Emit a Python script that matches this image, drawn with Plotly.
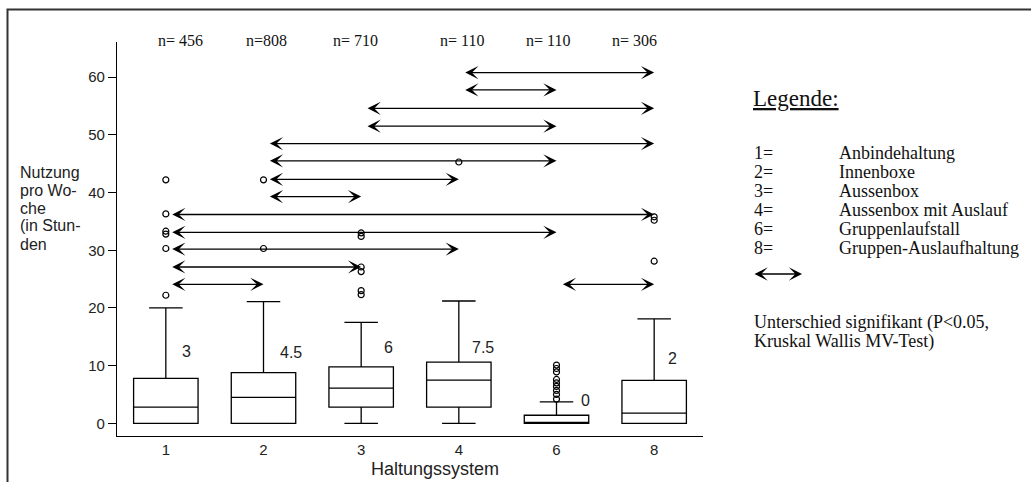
import plotly.graph_objects as go

# ---------------- data ----------------
categories = ["1", "2", "3", "4", "6", "8"]
n_labels = ["n= 456", "n=808", "n= 710", "n= 110", "n= 110", "n= 306"]
q1 = [0, 0, 2.8, 2.8, 0, 0]
median = [2.8, 4.5, 6.1, 7.5, 0, 1.75]
q3 = [7.8, 8.8, 9.8, 10.6, 1.4, 7.45]
lowerfence = [0, 0, 0, 0, 0, 0]
upperfence = [20.0, 21.1, 17.5, 21.2, 3.7, 18.1]
median_labels = ["3", "4.5", "6", "7.5", "0", "2"]

outliers = {
    "1": [22.2, 30.3, 32.8, 33.3, 36.3, 42.2],
    "2": [30.3, 42.2],
    "3": [22.3, 23.0, 26.3, 27.1, 32.4, 33.0],
    "4": [45.3],
    "6": [4.2, 5.0, 5.7, 6.4, 7.0, 7.6, 8.9, 9.5, 10.1],
    "8": [28.1, 35.2, 35.8],
}

# significant pairwise differences (from, to, height)
sig_from = ["4", "4", "3", "3", "2", "2", "2", "2", "1", "1", "1", "1", "1", "6"]
sig_to = ["8", "6", "8", "6", "8", "6", "4", "3", "8", "6", "4", "3", "2", "8"]
sig_y = [60.8, 57.8, 54.6, 51.5, 48.5, 45.5, 42.3, 39.3, 36.2, 33.1, 30.2, 27.1, 24.1, 24.1]

legend_codes = ["1=", "2=", "3=", "4=", "6=", "8="]
legend_names = ["Anbindehaltung", "Innenboxe", "Aussenbox", "Aussenbox mit Auslauf",
                "Gruppenlaufstall", "Gruppen-Auslaufhaltung"]
y_title_lines = ["Nutzung", "pro Wo-", "che", "(in Stun-", "den"]

# ---------------- figure ----------------
W, H = 1031, 482
ML, MR, MT, MB = 117, W - 703, 42, H - 436
PW, PH = W - ML - MR, H - MT - MB

def px_x(p):
    return (p - ML) / PW

def px_y(p):
    return (H - MB - p) / PH

pos = {c: i for i, c in enumerate(categories)}
xs = list(range(len(categories)))

fig = go.Figure()
fig.add_trace(go.Box(
    x=xs, q1=q1, median=median, q3=q3,
    lowerfence=lowerfence, upperfence=upperfence,
    width=0.66, whiskerwidth=0.52, boxpoints=False,
    line=dict(color="black", width=1.3), fillcolor="white",
    showlegend=False, hoverinfo="skip",
))

ox, oy = [], []
for c in categories:
    for v in outliers[c]:
        ox.append(pos[c])
        oy.append(v)
fig.add_trace(go.Scatter(
    x=ox, y=oy, mode="markers",
    marker=dict(symbol="circle-open", size=6, color="black", line=dict(width=1.2)),
    showlegend=False, hoverinfo="skip", cliponaxis=False,
))

ann = []
arrow_common = dict(showarrow=True, arrowside="end+start", arrowhead=3, startarrowhead=3,
                    arrowsize=1.7, startarrowsize=1.7, arrowwidth=1.3, arrowcolor="black",
                    text="", standoff=0, startstandoff=0)
for f, t, yv in zip(sig_from, sig_to, sig_y):
    ann.append(dict(x=pos[t], y=yv, ax=pos[f] + 0.05, ay=yv, xref="x", yref="y",
                    axref="x", ayref="y", **arrow_common))

# median labels
label_dx = [0.21, 0.28, 0.28, 0.25, 0.3, 0.19]
label_y = [12.4, 12.2, 13.2, 13.1, 4.0, 11.3]
for i, t in enumerate(median_labels):
    ann.append(dict(x=xs[i] + label_dx[i], y=label_y[i], xref="x", yref="y", text=t,
                    showarrow=False, font=dict(family="Liberation Sans, Arial", size=16, color="#222")))

# n labels
n_dx = [0.145, 0.03, -0.06, 0.03, -0.09, -0.2]
for i, t in enumerate(n_labels):
    ann.append(dict(x=xs[i] + n_dx[i], y=px_y(40), xref="x", yref="paper", text=t,
                    showarrow=False, yanchor="middle",
                    font=dict(family="Liberation Serif, Times New Roman", size=16, color="#111")))

# y title lines
for i, t in enumerate(y_title_lines):
    ann.append(dict(x=px_x(18), y=px_y(172 + 18 * i), xref="paper", yref="paper", text=t,
                    showarrow=False, xanchor="left", yanchor="middle",
                    font=dict(family="Liberation Sans, Arial", size=16, color="#222")))

# x title
ann.append(dict(x=px_x(435), y=px_y(469), xref="paper", yref="paper", text="Haltungssystem",
                showarrow=False, xanchor="center", yanchor="middle",
                font=dict(family="Liberation Sans, Arial", size=18, color="#222")))

# legend
serif = "Liberation Serif, Times New Roman"
ann.append(dict(x=px_x(751), y=px_y(98), xref="paper", yref="paper", text="<u>Legende:</u>",
                showarrow=False, xanchor="left", yanchor="middle",
                font=dict(family=serif, size=23, color="#111")))
for i, (c, n) in enumerate(zip(legend_codes, legend_names)):
    yy = px_y(153 + 19 * i)
    ann.append(dict(x=px_x(752), y=yy, xref="paper", yref="paper", text=c, showarrow=False,
                    xanchor="left", yanchor="middle", font=dict(family=serif, size=18, color="#111")))
    ann.append(dict(x=px_x(837), y=yy, xref="paper", yref="paper", text=n, showarrow=False,
                    xanchor="left", yanchor="middle", font=dict(family=serif, size=18, color="#111")))
ann.append(dict(x=px_x(802), y=px_y(274), ax=-49, ay=0, xref="paper", yref="paper",
                axref="pixel", ayref="pixel", **arrow_common))
ann.append(dict(x=px_x(752), y=px_y(322), xref="paper", yref="paper",
                text="Unterschied signifikant (P&lt;0.05,", showarrow=False,
                xanchor="left", yanchor="middle", font=dict(family=serif, size=18, color="#111")))
ann.append(dict(x=px_x(752), y=px_y(341), xref="paper", yref="paper",
                text="Kruskal Wallis MV-Test)", showarrow=False,
                xanchor="left", yanchor="middle", font=dict(family=serif, size=18, color="#111")))

frame = dict(type="rect", xref="paper", yref="paper",
             x0=px_x(7.5), x1=px_x(1045), y0=px_y(500), y1=px_y(9.5),
             line=dict(color="#333", width=2), fillcolor="rgba(0,0,0,0)", layer="above")

fig.update_layout(
    width=W, height=H,
    margin=dict(l=ML, r=MR, t=MT, b=MB, pad=0),
    paper_bgcolor="white", plot_bgcolor="white",
    annotations=ann, shapes=[frame],
    xaxis=dict(range=[-0.5, 5.5], tickmode="array", tickvals=xs, ticktext=categories,
               showline=True, linecolor="black", linewidth=1.3, ticks="", showgrid=False,
               zeroline=False, tickfont=dict(family="Liberation Sans, Arial", size=15, color="#222")),
    yaxis=dict(range=[-2.2, 66.1], tickmode="array", tickvals=[0, 10, 20, 30, 40, 50, 60],
               showline=True, linecolor="black", linewidth=1.3, ticks="outside", ticklen=8,
               tickwidth=1.2, tickcolor="black", showgrid=False, zeroline=False,
               tickfont=dict(family="Liberation Sans, Arial", size=15, color="#222")),
)

fig.write_html("out.html")
